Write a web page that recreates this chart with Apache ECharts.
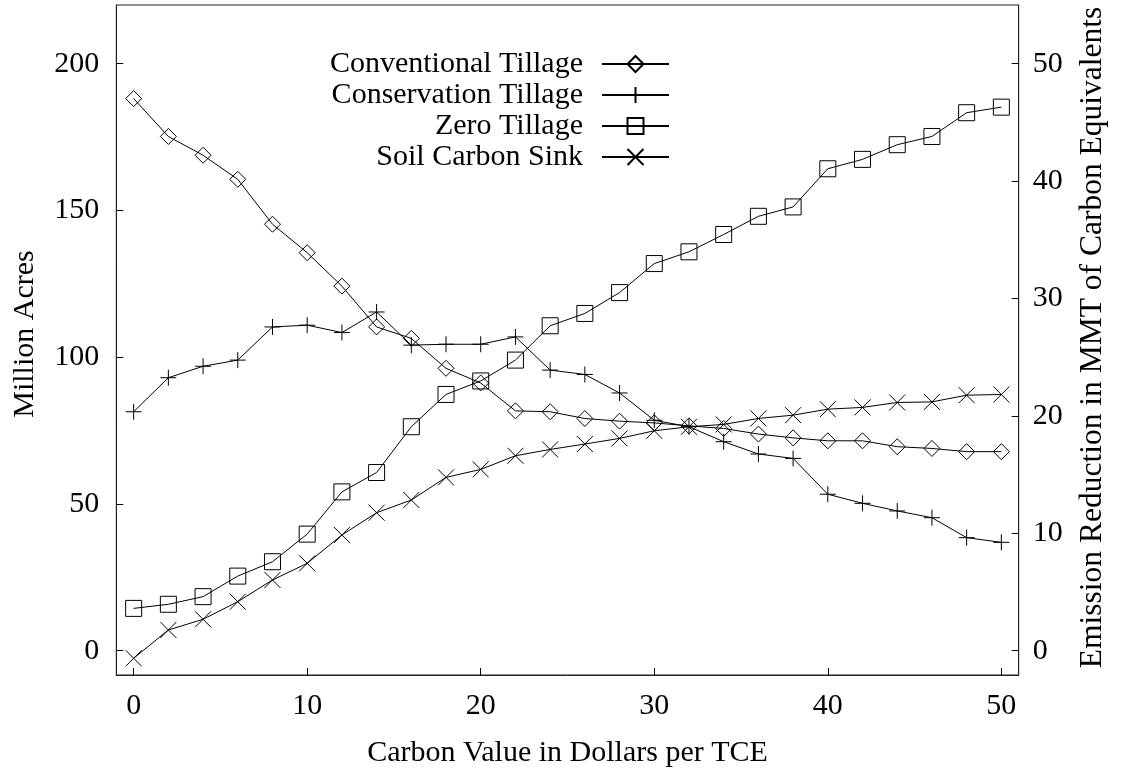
<!DOCTYPE html>
<html>
<head>
<meta charset="utf-8">
<title>Tillage adoption and soil carbon sink vs. carbon value</title>
<script src="https://cdn.jsdelivr.net/npm/echarts@6/dist/echarts.min.js"></script>
<style>
  html, body { margin: 0; padding: 0; background: #fff; }
  #chart { width: 1122px; height: 774px; }
</style>
</head>
<body>
<div id="chart"></div>
<script>
// Carbon value in dollars per TCE
const carbonValue = [0, 2, 4, 6, 8, 10, 12, 14, 16, 18, 20, 22, 24, 26, 28, 30, 32, 34, 36, 38, 40, 42, 44, 46, 48, 50];

// Acreage by tillage practice (million acres)
const conventionalTillage = [188.1, 175.2, 168.8, 160.6, 145.3, 135.6, 124.2, 110.3, 106.4, 96.2, 91.2, 81.7, 81.4, 79.1, 78.2, 77.6, 76.6, 75.7, 73.8, 72.5, 71.5, 71.5, 69.5, 68.9, 67.8, 67.8];
const conservationTillage = [81.4, 93.0, 96.9, 99.0, 110.3, 110.9, 108.4, 115.4, 104.1, 104.4, 104.4, 106.9, 95.6, 94.1, 87.8, 78.5, 76.3, 71.2, 67.0, 65.5, 53.3, 50.2, 47.6, 45.3, 38.5, 36.9];
const zeroTillage = [14.4, 15.8, 18.4, 25.4, 30.3, 39.7, 54.1, 60.7, 76.3, 87.3, 91.9, 99.0, 110.7, 114.9, 122.0, 131.9, 135.9, 141.8, 148.0, 151.2, 164.2, 167.4, 172.4, 175.2, 183.3, 185.2];

// Emission reduction (MMT of carbon equivalents), right axis
const soilCarbonSink = [-0.65, 1.76, 2.67, 4.17, 6.02, 7.44, 9.85, 11.75, 12.83, 14.76, 15.44, 16.6, 17.14, 17.6, 18.08, 18.73, 19.07, 19.27, 19.78, 20.06, 20.57, 20.72, 21.14, 21.19, 21.76, 21.82];

// Tick labels
const xTicks = [0, 10, 20, 30, 40, 50];
const acreTicks = [0, 50, 100, 150, 200];
const emissionTicks = [0, 10, 20, 30, 40, 50];

const FONT = '"Liberation Serif", "Times New Roman", Times, serif';
const INK = '#000';

const pairs = (ys) => carbonValue.map((x, i) => [x, ys[i]]);

const markerStyle = { color: 'rgba(0,0,0,0)', borderColor: INK, borderWidth: 1 };

function lineSeries(name, ys, symbol, axisIndex) {
  return {
    name: name,
    type: 'line',
    yAxisIndex: axisIndex,
    data: pairs(ys),
    symbol: symbol,
    symbolSize: 16,
    showAllSymbol: true,
    lineStyle: { color: INK, width: 1 },
    itemStyle: markerStyle,
    emphasis: { disabled: true },
    z: 2
  };
}

const frameLine = { show: true, onZero: false, lineStyle: { color: '#222', width: 1 } };
const tickStyle = { inside: true, length: 7, lineStyle: { color: INK, width: 1 } };
const labelText = { fontFamily: FONT, fontSize: 30, color: INK };
const nameText = { fontFamily: FONT, fontSize: 30, color: INK };

const chart = echarts.init(document.getElementById('chart'), null, { renderer: 'canvas' });

chart.setOption({
  animation: false,
  backgroundColor: '#fff',
  grid: {
    left: 116.3, right: 103.3, top: 5, bottom: 99,
    show: true, borderColor: '#222', borderWidth: 1, backgroundColor: 'transparent'
  },
  legend: {
    orient: 'vertical',
    align: 'right',
    right: 452,
    top: 48.5,
    padding: 0,
    itemGap: 0,
    itemWidth: 67,
    itemHeight: 20,
    selectedMode: false,
    textStyle: { fontFamily: FONT, fontSize: 30, color: INK, lineHeight: 31, padding: [0, 14, 0, 0] },
    data: ['Conventional Tillage', 'Conservation Tillage', 'Zero Tillage', 'Soil Carbon Sink']
  },
  xAxis: {
    type: 'value',
    min: -1, max: 51,
    name: 'Carbon Value in Dollars per TCE',
    nameLocation: 'middle',
    nameGap: 63,
    nameTextStyle: nameText,
    axisLine: frameLine,
    axisTick: Object.assign({ customValues: xTicks }, tickStyle),
    axisLabel: Object.assign({ customValues: xTicks, margin: 16 }, labelText),
    splitLine: { show: false }
  },
  yAxis: [
    {
      type: 'value',
      position: 'left',
      min: -8.3, max: 220,
      name: 'Million Acres',
      nameLocation: 'middle',
      nameRotate: 90,
      nameGap: 76,
      nameTextStyle: Object.assign({ padding: [0, 0, 0, 12] }, nameText),
      axisLine: frameLine,
      axisTick: Object.assign({ customValues: acreTicks }, tickStyle),
      axisLabel: Object.assign({ customValues: acreTicks, margin: 17 }, labelText),
      splitLine: { show: false }
    },
    {
      type: 'value',
      position: 'right',
      min: -2.075, max: 55,
      name: 'Emission Reduction in MMT of Carbon Equivalents',
      nameLocation: 'middle',
      nameRotate: 90,
      nameGap: 58,
      nameTextStyle: Object.assign({}, nameText, { fontSize: 31.5, padding: [0, 0, 0, 5] }),
      axisLine: frameLine,
      axisTick: Object.assign({ customValues: emissionTicks }, tickStyle),
      axisLabel: Object.assign({ customValues: emissionTicks, margin: 14 }, labelText),
      splitLine: { show: false }
    }
  ],
  series: [
    lineSeries('Conventional Tillage', conventionalTillage, 'diamond', 0),
    lineSeries('Conservation Tillage', conservationTillage, 'path://M0,8L16,8M8,0L8,16', 0),
    lineSeries('Zero Tillage', zeroTillage, 'rect', 0),
    lineSeries('Soil Carbon Sink', soilCarbonSink, 'path://M0,0L16,16M16,0L0,16', 1)
  ]
});
</script>
</body>
</html>
